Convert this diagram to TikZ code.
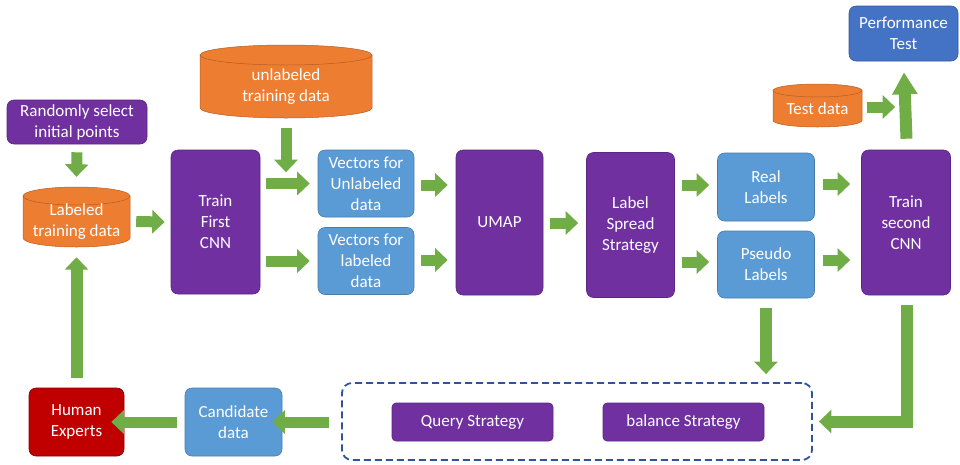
\documentclass[tikz,border=0pt]{standalone}
\usepackage{fontspec}
\setmainfont{Carlito}
\usetikzlibrary{arrows.meta,calc}
\definecolor{purp}{HTML}{7030A0}
\definecolor{lblue}{HTML}{5B9BD5}
\definecolor{dblue}{HTML}{4472C4}
\definecolor{orng}{HTML}{ED7D31}
\definecolor{grn}{HTML}{70AD47}
\definecolor{redc}{HTML}{C00000}
\definecolor{dashc}{HTML}{2F5597}
\tikzset{
  box/.style={rectangle, rounded corners=7pt, text=white, align=center,
    font=\fontsize{17}{21}\selectfont, inner sep=0pt, line width=0.6pt},
  pbox/.style={box, fill=purp, draw=purp!80!black},
  bbox/.style={box, fill=lblue, draw=lblue!80!black},
  cyltext/.style={rectangle, text=white, align=center, inner sep=0pt,
    font=\fontsize{17}{21}\selectfont},
  barrow/.style={draw=grn, line width=11pt, line join=miter,
    -{Triangle[width=23pt,length=12.5pt]}},
}
\newcommand{\mycyl}[7]{%
  \pgfmathsetmacro{\cylL}{#2-#4/2}%
  \pgfmathsetmacro{\cylR}{#2+#4/2}%
  \pgfmathsetmacro{\cylT}{#3-#5/2+#6}%
  \pgfmathsetmacro{\cylB}{#3+#5/2-#6}%
  \pgfmathsetmacro{\cylrx}{#4/2}%
  \pgfmathsetmacro{\cylTy}{#3+#6/2}%
  \pgfmathsetmacro{\cylH}{#5-#6}%
  \filldraw[fill=orng,draw=orng!75!black,line width=0.5pt] (\cylL,\cylT) -- (\cylL,\cylB)
     arc[start angle=180,end angle=360,x radius=\cylrx pt,y radius=#6pt] -- (\cylR,\cylT) -- cycle;
  \filldraw[fill=orng,draw=orng!75!black,line width=0.5pt] (#2,\cylT) ellipse[x radius=\cylrx pt,y radius=#6pt];
  \node[cyltext, minimum width=#4pt, minimum height=\cylH pt] (#1) at (#2,\cylTy) {#7};
}
\begin{document}
\begin{tikzpicture}[x=1pt,y=-1pt]
\useasboundingbox (0,0) rectangle (960,464);

% nodes
\node[pbox, minimum width=140pt, minimum height=44pt] (rand) at (77,122) {Randomly select\\initial points};
\mycyl{lab}{76.5}{217}{107}{60}{9}{Labeled\\training data}
\node[pbox, minimum width=89pt, minimum height=144pt] (cnn1) at (215.5,222) {Train\\First\\CNN};
\mycyl{unl}{286}{81.5}{172}{73}{10}{unlabeled\\training data}
\node[bbox, minimum width=96pt, minimum height=67pt] (vu) at (366,183.5) {Vectors for\\Unlabeled\\data};
\node[bbox, minimum width=96pt, minimum height=67pt] (vl) at (366,261) {Vectors for\\labeled\\data};
\node[pbox, minimum width=87pt, minimum height=145pt] (umap) at (499.5,222.5) {UMAP};
\node[pbox, minimum width=88pt, minimum height=145pt] (lss) at (630.5,225) {Label\\Spread\\Strategy};
\node[bbox, minimum width=97pt, minimum height=68pt] (real) at (766,187) {Real\\Labels};
\node[bbox, minimum width=97pt, minimum height=67pt] (pseudo) at (766,264.5) {Pseudo\\Labels};
\node[pbox, minimum width=89pt, minimum height=145pt] (cnn2) at (906,222.5) {Train\\second\\CNN};
\node[box, fill=dblue, draw=dblue!80!black, minimum width=109pt, minimum height=55pt] (perf) at (903.5,33.5) {Performance\\Test};
\mycyl{test}{817.5}{105.5}{89}{43}{6.5}{Test data}
\node[rectangle, draw=dashc, dashed, dash pattern=on 7pt off 4pt, line width=1.8pt, rounded corners=10pt,
  minimum width=470pt, minimum height=77pt] (dbox) at (577,421.5) {};
\node[pbox, rounded corners=4pt, minimum width=161pt, minimum height=38pt] (query) at (472.5,422) {Query Strategy};
\node[pbox, rounded corners=4pt, minimum width=161pt, minimum height=38pt] (bal) at (683.5,422) {balance Strategy};
\node[bbox, minimum width=97pt, minimum height=68pt] (cand) at (233.5,422) {Candidate\\data};
\node[box, fill=redc, draw=redc!70!black, minimum width=95pt, minimum height=68pt] (human) at (76.5,422) {Human\\Experts};

% connectors (canvas yshift > 0 is upward)
\draw[barrow] ([yshift=-8]rand.south) -- ([yshift=19]lab.north);
\draw[barrow] ([xshift=6]lab.east) -- ([xshift=-6]cnn1.west);
\coordinate (unlend) at ($(unl.south)+(0,54)$);
\draw[barrow] ([yshift=-10]unl.south) -- (unlend);
\draw[barrow] (cnn1.east |- vu.west) ++(6,0) -- ([xshift=-8]vu.west);
\draw[barrow] (cnn1.east |- vl.west) ++(6,0) -- ([xshift=-8]vl.west);
\draw[barrow] (vu.east |- 0,185) ++(7,0) -- ([xshift=-8]umap.west |- 0,185);
\draw[barrow] (vl.east |- 0,260) ++(7,0) -- ([xshift=-8]umap.west |- 0,260);
\draw[barrow] (umap.east |- 0,223) ++(7,0) -- ([xshift=-8]lss.west |- 0,223);
\draw[barrow] (lss.east |- 0,185) ++(7,0) -- ([xshift=-8]real.west |- 0,185);
\draw[barrow] (lss.east |- 0,262) ++(7,0) -- ([xshift=-8]pseudo.west |- 0,262);
\draw[barrow] (real.east |- 0,184) ++(8,0) -- ([xshift=-11]cnn2.west |- 0,184);
\draw[barrow] (pseudo.east |- 0,260) ++(8,0) -- ([xshift=-11]cnn2.west |- 0,260);
\coordinate (testend) at ($(test.east |- 0,107)+(33,0)$);
\draw[barrow] ($(test.east |- 0,107)+(5,0)$) -- (testend);
\draw[draw=grn, line width=12pt, -{Triangle[width=24pt,length=22pt]}] ([xshift=0.5,yshift=11]cnn2.north) -- ([xshift=0.5,yshift=-11]perf.south);
\draw[barrow, line width=12pt] ([yshift=-10]pseudo.south) -- ([yshift=8]pseudo.south |- dbox.north);
\draw[barrow, line width=12pt] ([xshift=1,yshift=-10]cnn2.south) |- ([xshift=6]dbox.east);
\draw[barrow] ([xshift=-12]dbox.west |- 0,422) -- ([xshift=-10]cand.east);
\draw[barrow] ([xshift=-8]cand.west) -- ([xshift=-13]human.east);
\draw[barrow, line width=12pt] ([yshift=10]human.north) -- ([yshift=-10]lab.south);
\end{tikzpicture}
\end{document}
